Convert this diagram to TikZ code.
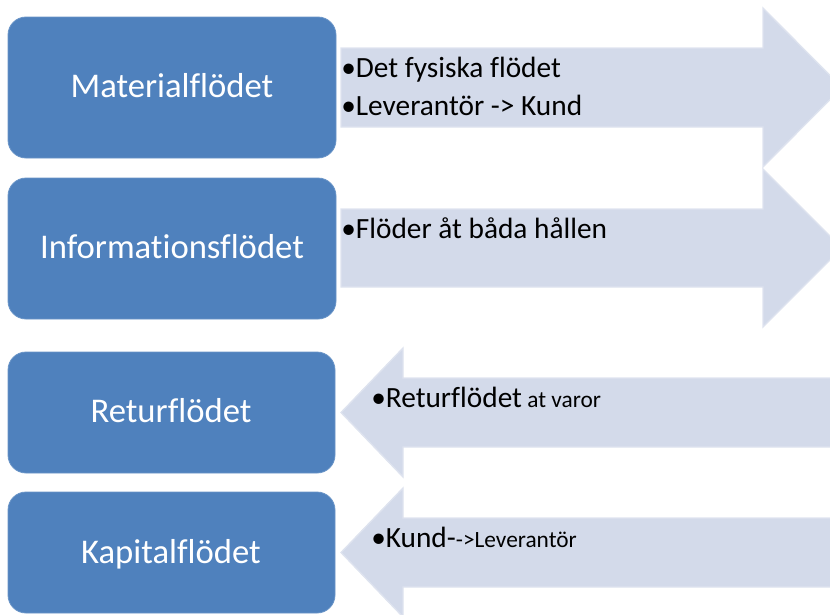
\documentclass[tikz,border=0pt]{standalone}
\usepackage{fontspec}
\setmainfont{Carlito}[Ligatures={NoCommon}]
\definecolor{boxblue}{RGB}{79,129,189}
\definecolor{arrowfill}{RGB}{211,218,234}
\definecolor{arrowedge}{RGB}{222,227,239}
\tikzset{
  flowbox/.style={fill=boxblue, draw=boxblue!85!white, line width=0.6pt, rounded corners=13.5pt},
  boxlabel/.style={text=white, font=\fontsize{26}{30}\selectfont, anchor=base, inner sep=0pt},
  flowarrow/.style={fill=arrowfill, draw=arrowedge, line width=1pt},
  bullettext/.style={text=black, font=\fontsize{22}{26}\selectfont, anchor=base west, inner sep=0pt},
}
\begin{document}
\begin{tikzpicture}[x=0.75pt,y=-0.75pt]
\useasboundingbox (0,0) rectangle (830,614);
\clip (0,0) rectangle (830,614);
% arrows
\draw[flowarrow] (341,48) -- (763,48) -- (763,8) -- (842,87.5) -- (763,167) -- (763,127) -- (341,127) -- cycle;
\draw[flowarrow] (341,209) -- (763,209) -- (763,169) -- (842,248) -- (763,327) -- (763,287) -- (341,287) -- cycle;
\draw[flowarrow] (845,378) -- (403,378) -- (403,348) -- (341,412.5) -- (403,477) -- (403,447) -- (845,447) -- cycle;
\draw[flowarrow] (845,518) -- (403,518) -- (403,488) -- (341,552.5) -- (403,617) -- (403,587) -- (845,587) -- cycle;
% boxes
\draw[flowbox] (8,17) rectangle (336,158);
\draw[flowbox] (8,178) rectangle (336,319);
\draw[flowbox] (8,352) rectangle (335,473);
\draw[flowbox] (8,492) rectangle (335,613);
\node[boxlabel] (m) at (172,97) {Materialflödet};
\node[boxlabel] (i) at (172,258) {Informationsflödet};
\node[boxlabel] (r) at (171,422) {Returflödet};
\node[boxlabel] (k) at (171,563) {Kapitalflödet};
% texts
\node[bullettext] (t1) at (341,77) {•Det fysiska flödet};
\node[bullettext] (t2) at (341,115) {•Leverantör -> Kund};
\node[bullettext] (t3) at (341,238) {•Flöder åt båda hållen};
\node[bullettext] (t4) at (371,407) {•Returflödet\fontsize{17.5}{21}\selectfont{} at varor};
\node[bullettext] (t5) at (371,547) {•Kund-\fontsize{17.5}{21}\selectfont->Leverantör};
\end{tikzpicture}
\end{document}
